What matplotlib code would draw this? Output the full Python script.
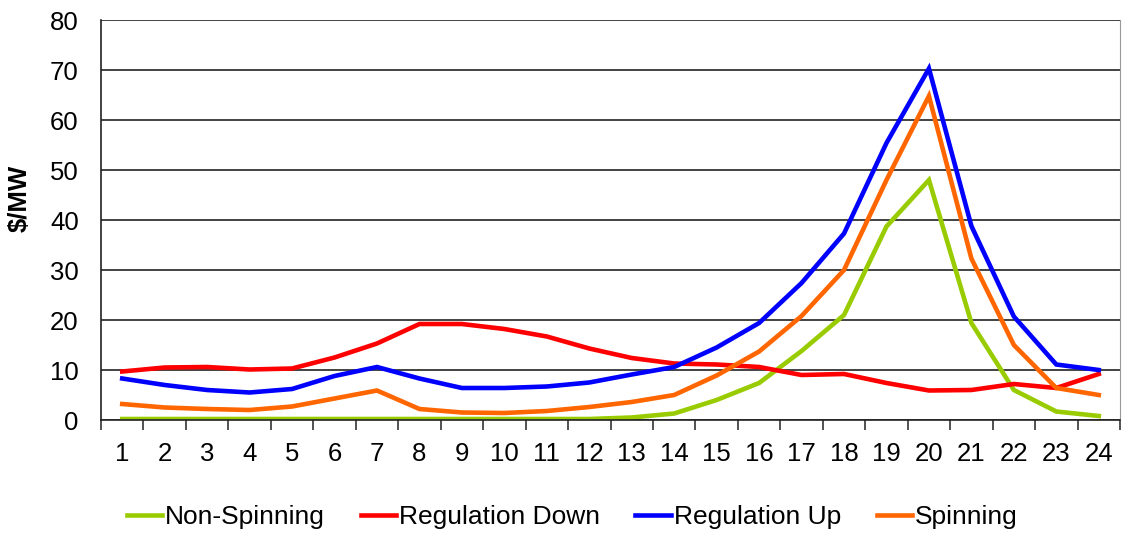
import numpy as np
import matplotlib
matplotlib.use('Agg')
import matplotlib.pyplot as plt

plt.rcParams['font.family'] = ['Liberation Sans', 'DejaVu Sans']

hours = list(range(1, 25))

non_spinning = [0.2, 0.2, 0.2, 0.2, 0.2, 0.2, 0.2, 0.2, 0.2, 0.2, 0.2, 0.2,
                0.5, 1.3, 4.0, 7.4, 13.8, 21.0, 38.7, 48.0, 19.4, 6.0, 1.7, 0.8]
regulation_down = [9.7, 10.5, 10.6, 10.1, 10.3, 12.5, 15.3, 19.2, 19.2, 18.2, 16.7, 14.3,
                   12.4, 11.3, 11.1, 10.6, 9.0, 9.2, 7.4, 5.9, 6.0, 7.2, 6.4, 9.2]
regulation_up = [8.3, 7.0, 6.0, 5.5, 6.2, 8.8, 10.6, 8.3, 6.4, 6.4, 6.7, 7.5,
                 9.1, 10.6, 14.5, 19.4, 27.4, 37.3, 55.4, 70.3, 38.8, 20.7, 11.1, 10.0]
spinning = [3.2, 2.5, 2.2, 2.0, 2.7, 4.3, 5.9, 2.2, 1.5, 1.4, 1.8, 2.6,
            3.6, 5.0, 8.9, 13.7, 20.8, 30.0, 48.0, 64.8, 32.3, 15.0, 6.4, 5.0]

series = [
    ('Non-Spinning', non_spinning, '#99CC00'),
    ('Regulation Down', regulation_down, '#FF0000'),
    ('Regulation Up', regulation_up, '#0000FF'),
    ('Spinning', spinning, '#FF6600'),
]

fs = 18.5

fig = plt.figure(figsize=(11.22, 5.34), dpi=100)
ax = fig.add_axes([101 / 1122, 1 - 420 / 534, 1019 / 1122, 400 / 534])

for name, vals, col in series:
    ax.plot(hours, vals, color=col, lw=3.3, label=name, solid_joinstyle='miter')

ax.set_xlim(0.5, 24.5)
ax.set_ylim(0, 80)
ax.set_yticks(np.arange(0, 81, 10))
ax.set_xticks(hours)
ax.set_xticks(np.arange(0.5, 25, 1), minor=True)
ax.tick_params(axis='x', which='major', length=0, pad=16, labelsize=fs)
ax.tick_params(axis='x', which='minor', length=7, width=1.2, color='#333333', direction='out')
ax.tick_params(axis='y', length=0, pad=16, labelsize=fs)
ax.yaxis.grid(True, color='#222222', lw=1.2)
ax.set_axisbelow(True)

ax.spines['top'].set_visible(False)
ax.spines['right'].set_color('#999999')
ax.spines['left'].set_color('#222222')
ax.spines['bottom'].set_color('#222222')
ax.spines['left'].set_linewidth(1.2)
ax.spines['bottom'].set_linewidth(1.2)

ax.set_ylabel('$/MW', fontsize=18.5, fontweight='bold')
ax.yaxis.set_label_coords((20 - 101) / 1019, (420 - 198) / 400)
ax.yaxis.label.set_verticalalignment('center')

fig.legend(loc='center', bbox_to_anchor=(0.51, 1 - 517 / 534), ncol=4, frameon=False,
           fontsize=19, handlelength=1.35, handletextpad=0.1, columnspacing=1.35)

fig.savefig('out.png', dpi=100)
